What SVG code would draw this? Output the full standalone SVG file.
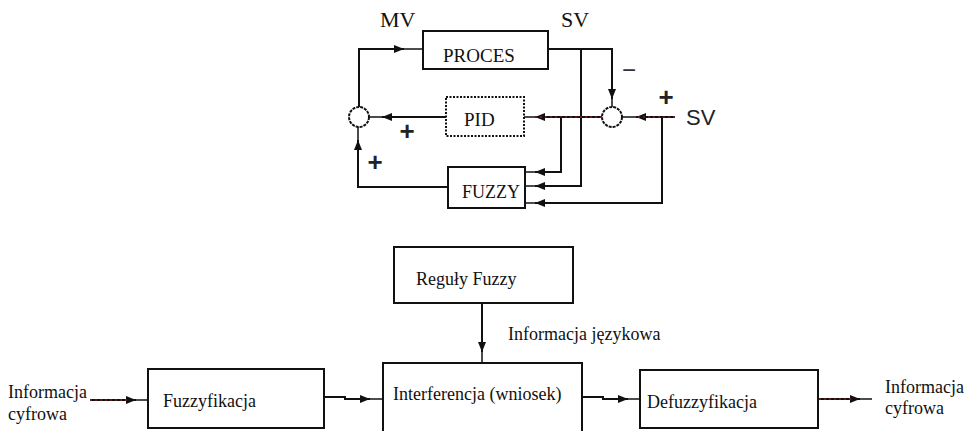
<svg xmlns="http://www.w3.org/2000/svg" width="969" height="431" viewBox="0 0 969 431">
<defs>
<style>
.box{fill:#fff;stroke:#111;stroke-width:2}
.dbox{fill:#fff;stroke:#111;stroke-width:2;stroke-dasharray:2 1.5}
.t{font-family:"Liberation Serif","Times New Roman",serif;fill:#111}
.s{font-family:"Liberation Sans",Arial,sans-serif;fill:#222}
.ln{fill:none;stroke:#111;stroke-width:2}
.red{fill:none;stroke:#b22;stroke-width:1.2;stroke-dasharray:2 3}
.tail{fill:none;stroke:#111;stroke-width:1.5}
.circ{fill:#fff;stroke:#111;stroke-width:2;stroke-dasharray:3 1}
</style>
<marker id="ar" markerUnits="userSpaceOnUse" markerWidth="11" markerHeight="9" refX="10" refY="4.5" orient="auto">
<path d="M0,0.5 L10,4.5 L0,8.5 Z" fill="#111"/>
</marker>
</defs>

<g id="node-mv-label"><text class="t" x="380" y="27" font-size="22">MV</text></g>
<g id="node-sv-top-label"><text class="t" x="561" y="27" font-size="22">SV</text></g>

<g id="node-proces"><rect class="box" x="423" y="31" width="125" height="38"/><text class="t" x="443" y="62" font-size="19">PROCES</text></g>
<g id="node-pid"><rect class="dbox" x="446" y="97" width="78" height="39"/><text class="t" x="464" y="126" font-size="19">PID</text></g>
<g id="node-fuzzy"><rect class="box" x="448" y="167" width="77" height="41"/><text class="t" x="462" y="198" font-size="18">FUZZY</text></g>
<g id="node-sum-left"><circle class="circ" cx="359" cy="117" r="10"/></g>
<g id="node-sum-right"><circle class="circ" cx="612" cy="117" r="10"/></g>
<g id="node-sv-right-label"><text class="s" x="686" y="125" font-size="22" fill="#333">SV</text></g>

<g id="node-signs" class="s" font-weight="bold" text-anchor="middle">
<text x="407" y="140" font-size="26">+</text>
<text x="375" y="171" font-size="26">+</text>
<text x="666" y="106" font-size="26">+</text>
<text x="629" y="78" font-size="24" font-weight="normal" fill="#333">−</text>
</g>

<g id="node-reguly"><rect class="box" x="394" y="247" width="179" height="56"/><text class="t" x="416" y="285" font-size="18">Reguły Fuzzy</text></g>
<g id="node-info-jez"><text class="t" x="508" y="340" font-size="18">Informacja językowa</text></g>
<g id="node-fuzzyfikacja"><rect class="box" x="148" y="369" width="176" height="59"/><text class="t" x="163" y="407" font-size="18">Fuzzyfikacja</text></g>
<g id="node-interferencja"><rect class="box" x="383" y="363" width="199" height="80"/><text class="t" x="393" y="400" font-size="18">Interferencja (wniosek)</text></g>
<g id="node-defuzzyfikacja"><rect class="box" x="640" y="370" width="178" height="58"/><text class="t" x="647" y="408" font-size="18">Defuzzyfikacja</text></g>
<g id="node-in-label"><text class="t" x="8" y="398" font-size="18">Informacja</text><text class="t" x="8" y="420" font-size="18">cyfrowa</text></g>
<g id="node-out-label"><text class="t" x="885" y="393" font-size="18">Informacja</text><text class="t" x="885" y="414" font-size="18">cyfrowa</text></g>

<g id="connectors">
<path class="ln" d="M359,107 V49 H404" marker-end="url(#ar)"/>
<path class="tail" d="M404,49 H423"/>
<path class="ln" d="M446,117 H382" marker-end="url(#ar)"/>
<path class="tail" d="M382,117 H369"/>
<path class="ln" d="M448,187 H358 V140" marker-end="url(#ar)"/>
<path class="tail" d="M358,140 V127"/>
<path class="ln" d="M548,49 H612 V99" marker-end="url(#ar)"/>
<path class="tail" d="M612,99 V107"/>
<path class="ln" d="M581,49 V186 H535" marker-end="url(#ar)"/>
<path class="tail" d="M535,186 H525"/>
<path class="ln" d="M675,117 H636" marker-end="url(#ar)"/>
<path class="red" d="M675,117 H636"/>
<path class="tail" d="M636,117 H622"/>
<path class="ln" d="M602,117 H535" marker-end="url(#ar)"/>
<path class="red" d="M602,117 H535"/>
<path class="tail" d="M535,117 H524"/>
<path class="ln" d="M561,117 V172 H535" marker-end="url(#ar)"/>
<path class="tail" d="M535,172 H525"/>
<path class="ln" d="M662,117 V203 H535" marker-end="url(#ar)"/>
<path class="tail" d="M535,203 H525"/>

<path class="ln" d="M482,303 V352" marker-end="url(#ar)"/>
<path class="tail" d="M482,352 V363"/>
<path class="ln" d="M90,400 H136" marker-end="url(#ar)"/>
<path class="red" d="M90,400 H130"/>
<path class="tail" d="M136,400 H148"/>
<path class="ln" d="M324,397 H345 V399 H370" marker-end="url(#ar)"/>
<path class="tail" d="M370,399 H383"/>
<path class="ln" d="M582,397 H603 V399 H628" marker-end="url(#ar)"/>
<path class="tail" d="M628,399 H640"/>
<path class="ln" d="M819,399 H860" marker-end="url(#ar)"/>
<path class="red" d="M819,399 H852"/>
<path class="tail" d="M860,399 H872"/>
</g>
</svg>
